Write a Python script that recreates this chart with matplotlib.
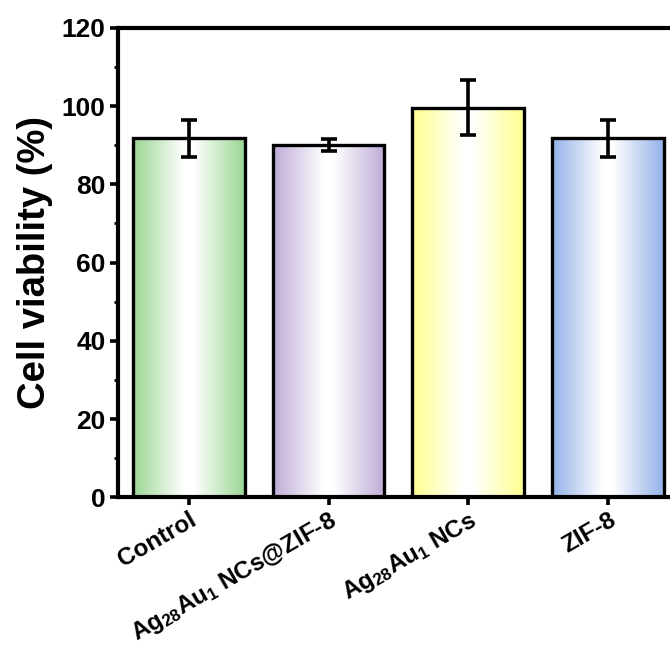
import numpy as np
import matplotlib
matplotlib.use('Agg')
import matplotlib.pyplot as plt
import matplotlib.transforms as mtransforms
from matplotlib.colors import LinearSegmentedColormap

plt.rcParams['font.family'] = ['Liberation Sans', 'DejaVu Sans']
plt.rcParams['mathtext.fontset'] = 'custom'
plt.rcParams['mathtext.rm'] = 'Liberation Sans:bold'
plt.rcParams['mathtext.it'] = 'Liberation Sans:bold'
plt.rcParams['mathtext.bf'] = 'Liberation Sans:bold'

# group names, mean viability and error
groups = ['Control', 'Ag$_{28}$Au$_{1}$ NCs@ZIF-8', 'Ag$_{28}$Au$_{1}$ NCs', 'ZIF-8']
viability = [91.8, 90.0, 99.6, 91.8]
errors = [4.7, 1.5, 7.1, 4.7]
edge_colors = ['#9fd898', '#c1afd9', '#ffff94', '#98b5ea']
yticks = [0, 20, 40, 60, 80, 100, 120]

fig = plt.figure(figsize=(6.7, 6.5), dpi=100)
ax = fig.add_axes([0.176, 0.235, 0.836, 0.722])

x = np.arange(len(groups))
bars = ax.bar(x, viability, width=0.8, color='none', edgecolor='black',
              linewidth=2.4, zorder=3)

# horizontal gradient: colour at the edges, white in the middle
prof = np.linspace(-1, 1, 256)
prof = np.clip(np.abs(prof) * 1.15 - 0.1, 0, 1)[None, :]
for b, c in zip(bars, edge_colors):
    cmap = LinearSegmentedColormap.from_list('g', ['white', c])
    x0, y0 = b.get_x(), b.get_y()
    im = ax.imshow(prof, cmap=cmap, vmin=0, vmax=1, aspect='auto',
                   extent=[x0, x0 + b.get_width(), y0, y0 + b.get_height()],
                   zorder=2, interpolation='bilinear')
    im.set_clip_path(b)

ax.errorbar(x, viability, yerr=errors, fmt='none', ecolor='black',
            elinewidth=2.6, capsize=6, capthick=2.6, zorder=4)

ax.set_xlim(-0.507, 3.5)
ax.set_ylim(0, 120)
ax.set_yticks(yticks)
ax.set_yticks(np.arange(10, 120, 20), minor=True)
ax.set_xticks(x)
ax.set_xticklabels(groups, rotation=30, ha='right', rotation_mode='anchor',
                   fontsize=17.5, fontweight='bold')
shift = mtransforms.ScaledTranslation(6 / 100, 0, fig.dpi_scale_trans)
for lab in ax.get_xticklabels():
    lab.set_transform(lab.get_transform() + shift)
for lab in ax.get_yticklabels():
    lab.set_fontsize(19)
    lab.set_fontweight('bold')

ax.tick_params(axis='both', which='major', direction='out', length=6, width=2.6, pad=3)
ax.tick_params(axis='y', which='minor', direction='out', length=3, width=2.0)
ax.tick_params(axis='x', which='major', pad=2)
for s in ax.spines.values():
    s.set_linewidth(3)

ax.set_ylabel('Cell viability (%)', fontsize=27.5, fontweight='bold', labelpad=6)

fig.savefig('out.png', dpi=100)
